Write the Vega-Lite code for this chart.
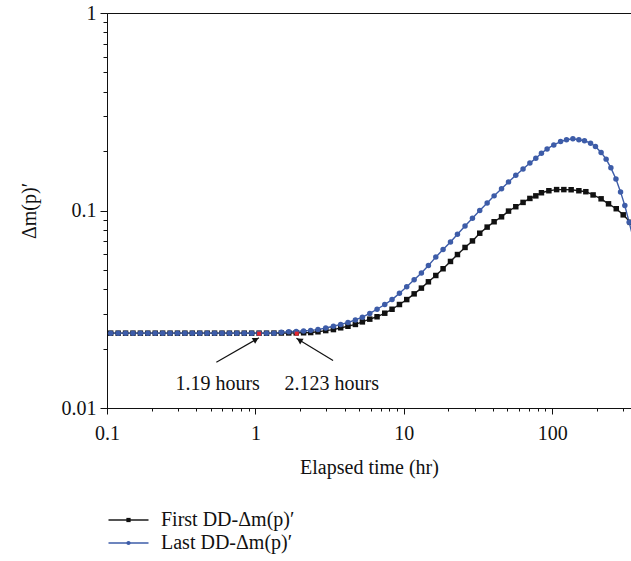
{
  "$schema": "https://vega.github.io/schema/vega-lite/v6.json",
  "width": 524,
  "height": 395,
  "autosize": "none",
  "padding": {"left": 107, "top": 13, "right": 0, "bottom": 153},
  "config": {
    "font": "Liberation Serif",
    "view": {"stroke": "#111", "strokeWidth": 1},
    "axis": {"grid": false, "domainColor": "#111", "tickColor": "#111", "labelColor": "#111", "titleColor": "#111", "labelFontSize": 20, "titleFontSize": 20, "titleFontWeight": "normal", "labelFlush": false, "labelOverlap": false, "labelBound": false}
  },
  "datasets": {
    "curves": [
      {"s": "First DD-Δm(p)′", "m": "First", "t": 0.1059, "v": 0.02393},
      {"s": "First DD-Δm(p)′", "m": "First", "t": 0.1189, "v": 0.02393},
      {"s": "First DD-Δm(p)′", "m": "First", "t": 0.1334, "v": 0.02393},
      {"s": "First DD-Δm(p)′", "m": "First", "t": 0.1496, "v": 0.02393},
      {"s": "First DD-Δm(p)′", "m": "First", "t": 0.1679, "v": 0.02393},
      {"s": "First DD-Δm(p)′", "m": "First", "t": 0.1884, "v": 0.02393},
      {"s": "First DD-Δm(p)′", "m": "First", "t": 0.2113, "v": 0.02393},
      {"s": "First DD-Δm(p)′", "m": "First", "t": 0.2371, "v": 0.02393},
      {"s": "First DD-Δm(p)′", "m": "First", "t": 0.2661, "v": 0.02393},
      {"s": "First DD-Δm(p)′", "m": "First", "t": 0.2985, "v": 0.02393},
      {"s": "First DD-Δm(p)′", "m": "First", "t": 0.335, "v": 0.02393},
      {"s": "First DD-Δm(p)′", "m": "First", "t": 0.3758, "v": 0.02393},
      {"s": "First DD-Δm(p)′", "m": "First", "t": 0.4217, "v": 0.02393},
      {"s": "First DD-Δm(p)′", "m": "First", "t": 0.4732, "v": 0.02393},
      {"s": "First DD-Δm(p)′", "m": "First", "t": 0.5309, "v": 0.02393},
      {"s": "First DD-Δm(p)′", "m": "First", "t": 0.5957, "v": 0.02393},
      {"s": "First DD-Δm(p)′", "m": "First", "t": 0.6683, "v": 0.02393},
      {"s": "First DD-Δm(p)′", "m": "First", "t": 0.7499, "v": 0.02393},
      {"s": "First DD-Δm(p)′", "m": "First", "t": 0.8414, "v": 0.02393},
      {"s": "First DD-Δm(p)′", "m": "First", "t": 0.9441, "v": 0.02393},
      {"s": "First DD-Δm(p)′", "m": "First", "t": 1.059, "v": 0.02393},
      {"s": "First DD-Δm(p)′", "m": "First", "t": 1.189, "v": 0.02393},
      {"s": "First DD-Δm(p)′", "m": "First", "t": 1.334, "v": 0.02395},
      {"s": "First DD-Δm(p)′", "m": "First", "t": 1.496, "v": 0.02397},
      {"s": "First DD-Δm(p)′", "m": "First", "t": 1.679, "v": 0.02399},
      {"s": "First DD-Δm(p)′", "m": "First", "t": 1.884, "v": 0.02401},
      {"s": "First DD-Δm(p)′", "m": "First", "t": 2.113, "v": 0.02404},
      {"s": "First DD-Δm(p)′", "m": "First", "t": 2.36, "v": 0.0241},
      {"s": "First DD-Δm(p)′", "m": "First", "t": 2.642, "v": 0.02432},
      {"s": "First DD-Δm(p)′", "m": "First", "t": 2.979, "v": 0.02466},
      {"s": "First DD-Δm(p)′", "m": "First", "t": 3.357, "v": 0.02495},
      {"s": "First DD-Δm(p)′", "m": "First", "t": 3.758, "v": 0.02547},
      {"s": "First DD-Δm(p)′", "m": "First", "t": 4.207, "v": 0.02594},
      {"s": "First DD-Δm(p)′", "m": "First", "t": 4.721, "v": 0.02649},
      {"s": "First DD-Δm(p)′", "m": "First", "t": 5.26, "v": 0.02729},
      {"s": "First DD-Δm(p)′", "m": "First", "t": 5.902, "v": 0.02818},
      {"s": "First DD-Δm(p)′", "m": "First", "t": 6.607, "v": 0.02897},
      {"s": "First DD-Δm(p)′", "m": "First", "t": 7.447, "v": 0.0302},
      {"s": "First DD-Δm(p)′", "m": "First", "t": 8.337, "v": 0.03162},
      {"s": "First DD-Δm(p)′", "m": "First", "t": 9.354, "v": 0.03342},
      {"s": "First DD-Δm(p)′", "m": "First", "t": 10.47, "v": 0.0354},
      {"s": "First DD-Δm(p)′", "m": "First", "t": 11.75, "v": 0.03784},
      {"s": "First DD-Δm(p)′", "m": "First", "t": 13.15, "v": 0.04046},
      {"s": "First DD-Δm(p)′", "m": "First", "t": 14.66, "v": 0.04355},
      {"s": "First DD-Δm(p)′", "m": "First", "t": 16.44, "v": 0.04688},
      {"s": "First DD-Δm(p)′", "m": "First", "t": 18.41, "v": 0.0507},
      {"s": "First DD-Δm(p)′", "m": "First", "t": 20.65, "v": 0.05521},
      {"s": "First DD-Δm(p)′", "m": "First", "t": 23.01, "v": 0.05984},
      {"s": "First DD-Δm(p)′", "m": "First", "t": 25.88, "v": 0.06501},
      {"s": "First DD-Δm(p)′", "m": "First", "t": 29.04, "v": 0.07015},
      {"s": "First DD-Δm(p)′", "m": "First", "t": 32.51, "v": 0.07674},
      {"s": "First DD-Δm(p)′", "m": "First", "t": 36.48, "v": 0.08241},
      {"s": "First DD-Δm(p)′", "m": "First", "t": 40.64, "v": 0.0877},
      {"s": "First DD-Δm(p)′", "m": "First", "t": 45.6, "v": 0.0929},
      {"s": "First DD-Δm(p)′", "m": "First", "t": 50.82, "v": 0.09931},
      {"s": "First DD-Δm(p)′", "m": "First", "t": 56.89, "v": 0.1045},
      {"s": "First DD-Δm(p)′", "m": "First", "t": 63.68, "v": 0.1099},
      {"s": "First DD-Δm(p)′", "m": "First", "t": 70.79, "v": 0.1151},
      {"s": "First DD-Δm(p)′", "m": "First", "t": 77.62, "v": 0.1186},
      {"s": "First DD-Δm(p)′", "m": "First", "t": 84.72, "v": 0.123},
      {"s": "First DD-Δm(p)′", "m": "First", "t": 95.06, "v": 0.1259},
      {"s": "First DD-Δm(p)′", "m": "First", "t": 107.2, "v": 0.1276},
      {"s": "First DD-Δm(p)′", "m": "First", "t": 119.9, "v": 0.1276},
      {"s": "First DD-Δm(p)′", "m": "First", "t": 134.3, "v": 0.1274},
      {"s": "First DD-Δm(p)′", "m": "First", "t": 151.4, "v": 0.1259},
      {"s": "First DD-Δm(p)′", "m": "First", "t": 168.7, "v": 0.1245},
      {"s": "First DD-Δm(p)′", "m": "First", "t": 188.8, "v": 0.1199},
      {"s": "First DD-Δm(p)′", "m": "First", "t": 213.8, "v": 0.1146},
      {"s": "First DD-Δm(p)′", "m": "First", "t": 239.9, "v": 0.1081},
      {"s": "First DD-Δm(p)′", "m": "First", "t": 270.4, "v": 0.1021},
      {"s": "First DD-Δm(p)′", "m": "First", "t": 301.3, "v": 0.09506},
      {"s": "First DD-Δm(p)′", "m": "First", "t": 336.5, "v": 0.0871},
      {"s": "Last DD-Δm(p)′", "m": "Last", "t": 0.1059, "v": 0.02393},
      {"s": "Last DD-Δm(p)′", "m": "Last", "t": 0.1189, "v": 0.02393},
      {"s": "Last DD-Δm(p)′", "m": "Last", "t": 0.1334, "v": 0.02393},
      {"s": "Last DD-Δm(p)′", "m": "Last", "t": 0.1496, "v": 0.02393},
      {"s": "Last DD-Δm(p)′", "m": "Last", "t": 0.1679, "v": 0.02393},
      {"s": "Last DD-Δm(p)′", "m": "Last", "t": 0.1884, "v": 0.02393},
      {"s": "Last DD-Δm(p)′", "m": "Last", "t": 0.2113, "v": 0.02393},
      {"s": "Last DD-Δm(p)′", "m": "Last", "t": 0.2371, "v": 0.02393},
      {"s": "Last DD-Δm(p)′", "m": "Last", "t": 0.2661, "v": 0.02393},
      {"s": "Last DD-Δm(p)′", "m": "Last", "t": 0.2985, "v": 0.02393},
      {"s": "Last DD-Δm(p)′", "m": "Last", "t": 0.335, "v": 0.02393},
      {"s": "Last DD-Δm(p)′", "m": "Last", "t": 0.3758, "v": 0.02393},
      {"s": "Last DD-Δm(p)′", "m": "Last", "t": 0.4217, "v": 0.02393},
      {"s": "Last DD-Δm(p)′", "m": "Last", "t": 0.4732, "v": 0.02393},
      {"s": "Last DD-Δm(p)′", "m": "Last", "t": 0.5309, "v": 0.02393},
      {"s": "Last DD-Δm(p)′", "m": "Last", "t": 0.5957, "v": 0.02393},
      {"s": "Last DD-Δm(p)′", "m": "Last", "t": 0.6683, "v": 0.02393},
      {"s": "Last DD-Δm(p)′", "m": "Last", "t": 0.7499, "v": 0.02393},
      {"s": "Last DD-Δm(p)′", "m": "Last", "t": 0.8414, "v": 0.02393},
      {"s": "Last DD-Δm(p)′", "m": "Last", "t": 0.9441, "v": 0.02393},
      {"s": "Last DD-Δm(p)′", "m": "Last", "t": 1.059, "v": 0.02393},
      {"s": "Last DD-Δm(p)′", "m": "Last", "t": 1.189, "v": 0.02393},
      {"s": "Last DD-Δm(p)′", "m": "Last", "t": 1.334, "v": 0.02393},
      {"s": "Last DD-Δm(p)′", "m": "Last", "t": 1.496, "v": 0.02421},
      {"s": "Last DD-Δm(p)′", "m": "Last", "t": 1.679, "v": 0.02432},
      {"s": "Last DD-Δm(p)′", "m": "Last", "t": 1.884, "v": 0.02443},
      {"s": "Last DD-Δm(p)′", "m": "Last", "t": 2.113, "v": 0.02455},
      {"s": "Last DD-Δm(p)′", "m": "Last", "t": 2.36, "v": 0.02472},
      {"s": "Last DD-Δm(p)′", "m": "Last", "t": 2.642, "v": 0.02495},
      {"s": "Last DD-Δm(p)′", "m": "Last", "t": 2.979, "v": 0.02541},
      {"s": "Last DD-Δm(p)′", "m": "Last", "t": 3.357, "v": 0.02594},
      {"s": "Last DD-Δm(p)′", "m": "Last", "t": 3.758, "v": 0.02649},
      {"s": "Last DD-Δm(p)′", "m": "Last", "t": 4.207, "v": 0.0271},
      {"s": "Last DD-Δm(p)′", "m": "Last", "t": 4.721, "v": 0.02793},
      {"s": "Last DD-Δm(p)′", "m": "Last", "t": 5.26, "v": 0.02884},
      {"s": "Last DD-Δm(p)′", "m": "Last", "t": 5.902, "v": 0.03013},
      {"s": "Last DD-Δm(p)′", "m": "Last", "t": 6.607, "v": 0.03162},
      {"s": "Last DD-Δm(p)′", "m": "Last", "t": 7.447, "v": 0.03342},
      {"s": "Last DD-Δm(p)′", "m": "Last", "t": 8.337, "v": 0.0354},
      {"s": "Last DD-Δm(p)′", "m": "Last", "t": 9.354, "v": 0.03811},
      {"s": "Last DD-Δm(p)′", "m": "Last", "t": 10.47, "v": 0.04111},
      {"s": "Last DD-Δm(p)′", "m": "Last", "t": 11.75, "v": 0.04457},
      {"s": "Last DD-Δm(p)′", "m": "Last", "t": 13.15, "v": 0.04831},
      {"s": "Last DD-Δm(p)′", "m": "Last", "t": 14.66, "v": 0.05272},
      {"s": "Last DD-Δm(p)′", "m": "Last", "t": 16.44, "v": 0.05808},
      {"s": "Last DD-Δm(p)′", "m": "Last", "t": 18.41, "v": 0.06353},
      {"s": "Last DD-Δm(p)′", "m": "Last", "t": 20.65, "v": 0.06934},
      {"s": "Last DD-Δm(p)′", "m": "Last", "t": 23.01, "v": 0.07586},
      {"s": "Last DD-Δm(p)′", "m": "Last", "t": 25.88, "v": 0.08356},
      {"s": "Last DD-Δm(p)′", "m": "Last", "t": 29.04, "v": 0.09141},
      {"s": "Last DD-Δm(p)′", "m": "Last", "t": 32.51, "v": 0.1},
      {"s": "Last DD-Δm(p)′", "m": "Last", "t": 36.48, "v": 0.1091},
      {"s": "Last DD-Δm(p)′", "m": "Last", "t": 40.64, "v": 0.1186},
      {"s": "Last DD-Δm(p)′", "m": "Last", "t": 45.6, "v": 0.1288},
      {"s": "Last DD-Δm(p)′", "m": "Last", "t": 50.82, "v": 0.1396},
      {"s": "Last DD-Δm(p)′", "m": "Last", "t": 56.89, "v": 0.1507},
      {"s": "Last DD-Δm(p)′", "m": "Last", "t": 63.68, "v": 0.1622},
      {"s": "Last DD-Δm(p)′", "m": "Last", "t": 70.79, "v": 0.1738},
      {"s": "Last DD-Δm(p)′", "m": "Last", "t": 77.62, "v": 0.1837},
      {"s": "Last DD-Δm(p)′", "m": "Last", "t": 84.72, "v": 0.195},
      {"s": "Last DD-Δm(p)′", "m": "Last", "t": 92.47, "v": 0.2051},
      {"s": "Last DD-Δm(p)′", "m": "Last", "t": 102.6, "v": 0.2148},
      {"s": "Last DD-Δm(p)′", "m": "Last", "t": 114.0, "v": 0.2234},
      {"s": "Last DD-Δm(p)′", "m": "Last", "t": 125.0, "v": 0.228},
      {"s": "Last DD-Δm(p)′", "m": "Last", "t": 138.0, "v": 0.2307},
      {"s": "Last DD-Δm(p)′", "m": "Last", "t": 151.4, "v": 0.228},
      {"s": "Last DD-Δm(p)′", "m": "Last", "t": 165.2, "v": 0.2254},
      {"s": "Last DD-Δm(p)′", "m": "Last", "t": 181.6, "v": 0.2193},
      {"s": "Last DD-Δm(p)′", "m": "Last", "t": 195.9, "v": 0.2109},
      {"s": "Last DD-Δm(p)′", "m": "Last", "t": 213.8, "v": 0.1968},
      {"s": "Last DD-Δm(p)′", "m": "Last", "t": 231.2, "v": 0.182},
      {"s": "Last DD-Δm(p)′", "m": "Last", "t": 248.9, "v": 0.1644},
      {"s": "Last DD-Δm(p)′", "m": "Last", "t": 269.2, "v": 0.1445},
      {"s": "Last DD-Δm(p)′", "m": "Last", "t": 289.1, "v": 0.1242},
      {"s": "Last DD-Δm(p)′", "m": "Last", "t": 309.0, "v": 0.1059},
      {"s": "Last DD-Δm(p)′", "m": "Last", "t": 330.4, "v": 0.0871},
      {"s": "Last DD-Δm(p)′", "m": "Last", "t": 354.8, "v": 0.0708}
    ],
    "marks": [
      {"t": 1.06, "v": 0.0238},
      {"t": 1.9, "v": 0.0238}
    ],
    "arrows": [
      {"x1": 0.5458, "y1": 0.01706, "x2": 1.057, "y2": 0.02266, "hx": 1.009, "hy": 0.02223, "ang": 60},
      {"x1": 3.337, "y1": 0.0174, "x2": 1.89, "y2": 0.02256, "hx": 1.98, "hy": 0.02209, "ang": 301}
    ],
    "labels": [
      {"t": 0.557, "v": 0.01227, "txt": "1.19 hours"},
      {"t": 3.27, "v": 0.01227, "txt": "2.123 hours"}
    ]
  },
  "encoding": {
    "x": {
      "field": "t", "type": "quantitative",
      "scale": {"type": "log", "domain": [0.1, 340], "nice": false},
      "axis": {
        "title": "Elapsed time (hr)",
        "values": [0.1, 0.2, 0.3, 0.4, 0.5, 0.6, 0.7, 0.8, 0.9, 1, 2, 3, 4, 5, 6, 7, 8, 9, 10, 20, 30, 40, 50, 60, 70, 80, 90, 100, 200, 300],
        "labelExpr": "datum.value == 0.1 ? '0.1' : datum.value == 1 ? '1' : datum.value == 10 ? '10' : datum.value == 100 ? '100' : ''",
        "tickSize": {"condition": {"test": "datum.value == 0.1 || datum.value == 1 || datum.value == 10 || datum.value == 100", "value": 6}, "value": 3},
        "labelPadding": 9,
        "titlePadding": 14
      }
    },
    "y": {
      "field": "v", "type": "quantitative",
      "scale": {"type": "log", "domain": [0.01, 1], "nice": false},
      "axis": {
        "title": "Δm(p)′",
        "values": [0.01, 0.02, 0.03, 0.04, 0.05, 0.06, 0.07, 0.08, 0.09, 0.1, 0.2, 0.3, 0.4, 0.5, 0.6, 0.7, 0.8, 0.9, 1],
        "labelExpr": "datum.value == 0.01 ? '0.01' : datum.value == 0.1 ? '0.1' : datum.value == 1 ? '1' : ''",
        "tickSize": {"condition": {"test": "datum.value == 0.01 || datum.value == 0.1 || datum.value == 1", "value": 7}, "value": 4},
        "labelPadding": 4,
        "titlePadding": 22
      }
    }
  },
  "layer": [
    {
      "data": {"name": "curves"},
      "mark": {"type": "line", "strokeWidth": 1.4, "clip": true},
      "encoding": {
        "color": {
          "field": "s", "type": "nominal",
          "scale": {"domain": ["First DD-Δm(p)′", "Last DD-Δm(p)′"], "range": ["#1a1a1a", "#3d5ca8"]},
          "legend": {"orient": "none", "legendX": 11.5, "legendY": 497, "title": null, "padding": 0, "symbolType": "M-8,0H8", "symbolSize": 25, "symbolStrokeWidth": 1.4, "labelOffset": 22.5, "labelFontSize": 20, "labelColor": "#111", "rowPadding": 3, "labelLimit": 400}
        }
      }
    },
    {
      "data": {"name": "curves"},
      "mark": {"type": "point", "filled": true, "size": 30, "opacity": 1, "clip": true},
      "encoding": {
        "fill": {
          "field": "m", "type": "nominal",
          "scale": {"domain": ["First", "Last"], "range": ["#111111", "#3d5ca8"]},
          "legend": {"orient": "none", "legendX": 11.5, "legendY": 497, "title": null, "padding": 0, "symbolSize": 18, "labelExpr": "''", "labelFontSize": 20, "rowPadding": 3}
        },
        "shape": {
          "field": "m", "type": "nominal",
          "scale": {"domain": ["First", "Last"], "range": ["square", "circle"]}
        }
      }
    },
    {
      "data": {"name": "marks"},
      "mark": {"type": "point", "shape": "square", "filled": true, "size": 16, "color": "#e3262e", "opacity": 1}
    },
    {
      "data": {"name": "arrows"},
      "mark": {"type": "rule", "strokeWidth": 1.2, "color": "#111"},
      "encoding": {
        "x": {"field": "x1", "type": "quantitative"},
        "x2": {"field": "x2"},
        "y": {"field": "y1", "type": "quantitative"},
        "y2": {"field": "y2"}
      }
    },
    {
      "data": {"name": "arrows"},
      "mark": {"type": "point", "shape": "triangle-up", "filled": true, "size": 45, "color": "#111", "opacity": 1},
      "encoding": {
        "x": {"field": "hx", "type": "quantitative"},
        "y": {"field": "hy", "type": "quantitative"},
        "angle": {"field": "ang", "type": "quantitative", "scale": null}
      }
    },
    {
      "data": {"name": "labels"},
      "mark": {"type": "text", "fontSize": 20, "align": "center", "baseline": "alphabetic", "color": "#111"},
      "encoding": {
        "text": {"field": "txt"}
      }
    }
  ]
}
